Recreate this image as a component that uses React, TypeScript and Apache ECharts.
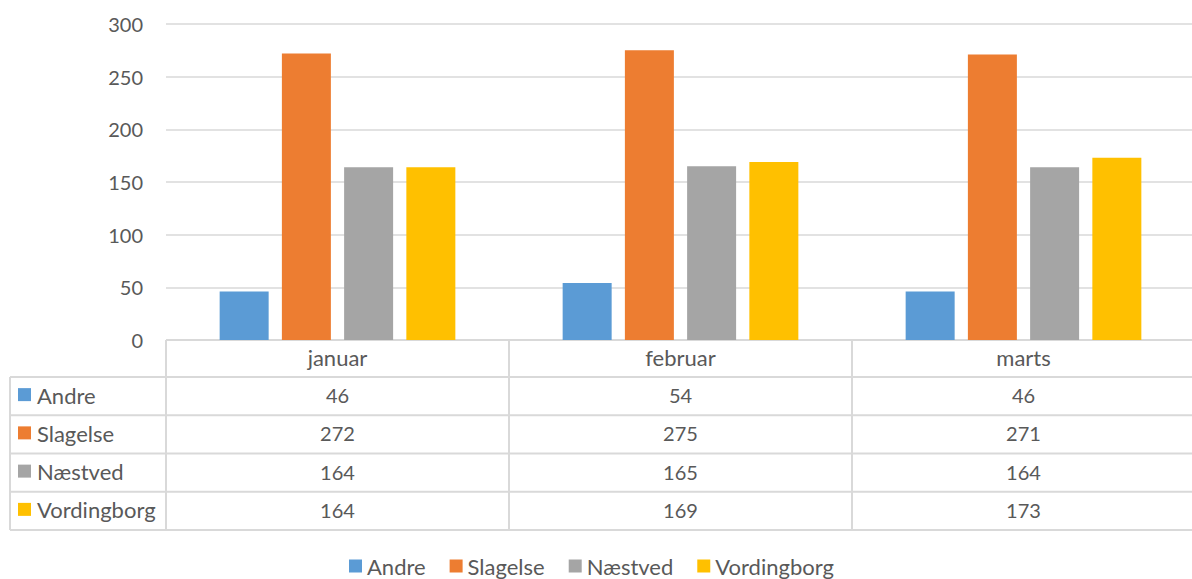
import React, { useEffect, useRef } from "react";
import * as echarts from "echarts";

const months = ["januar", "februar", "marts"];
const seriesNames = ["Andre", "Slagelse", "Næstved", "Vordingborg"];
const andre = [46, 54, 46];
const slagelse = [272, 275, 271];
const naestved = [164, 165, 164];
const vordingborg = [164, 169, 173];
const colors = ["#5B9BD5", "#ED7D31", "#A5A5A5", "#FFC000"];
const yTicks = { min: 0, max: 300, interval: 50 };

const FONT = "Lato, 'Open Sans', sans-serif";
const TXT = "#595959";
const LINE = "#D9D9D9";
const WORD = 22;
const NUM = 20;

export default function App() {
  const ref = useRef<HTMLDivElement>(null);
  useEffect(() => {
    if (!ref.current) return;
    const chart = echarts.init(ref.current, null, { renderer: "svg" });
    const values = [andre, slagelse, naestved, vordingborg];
    chart.setOption({
      animation: false,
      textStyle: { fontFamily: FONT },
      grid: { left: 166, right: 5, top: 24, bottom: 239, containLabel: false },
      legend: {
        data: seriesNames,
        left: 349,
        top: 553,
        padding: 0,
        icon: "rect",
        itemWidth: 13,
        itemHeight: 13,
        itemGap: 24,
        textStyle: { color: TXT, fontSize: WORD, fontFamily: FONT, lineHeight: 26 },
      },
      xAxis: {
        type: "category",
        data: months,
        axisLine: { show: false },
        axisTick: { show: false },
        axisLabel: { show: false },
      },
      yAxis: {
        type: "value",
        min: yTicks.min,
        max: yTicks.max,
        interval: yTicks.interval,
        axisLine: { show: false },
        axisTick: { show: false },
        axisLabel: { color: TXT, fontSize: NUM, fontFamily: FONT, margin: 23 },
        splitLine: { lineStyle: { color: LINE, width: 1.5 } },
      },
      series: seriesNames.map((name, i) => ({
        name,
        type: "bar",
        data: values[i],
        barWidth: 49,
        barGap: "27%",
        itemStyle: { color: colors[i] },
      })),
    });

    // data table below the plot
    const x0 = chart.convertToPixel({ xAxisIndex: 0 }, months[0]) as number;
    const x1 = chart.convertToPixel({ xAxisIndex: 0 }, months[1]) as number;
    const catW = x1 - x0;
    const top = chart.convertToPixel({ yAxisIndex: 0 }, 0) as number;
    const leftPlot = x0 - catW / 2;
    const rightPlot = leftPlot + catW * months.length;
    const headerH = 37;
    const rowH = 38.25;
    const tableLeft = 10;
    const bottom = top + headerH + rowH * seriesNames.length;
    const g: any[] = [];
    const ls = { stroke: LINE, lineWidth: 2 };
    g.push({ type: "line", shape: { x1: leftPlot, y1: top, x2: rightPlot, y2: top }, style: ls, silent: true });
    for (let r = 0; r <= seriesNames.length; r++) {
      const y = top + headerH + rowH * r;
      g.push({ type: "line", shape: { x1: tableLeft, y1: y, x2: rightPlot, y2: y }, style: ls, silent: true });
    }
    g.push({ type: "line", shape: { x1: tableLeft, y1: top + headerH, x2: tableLeft, y2: bottom }, style: ls, silent: true });
    for (let c = 0; c <= months.length; c++) {
      const x = leftPlot + catW * c;
      g.push({ type: "line", shape: { x1: x, y1: top, x2: x, y2: bottom }, style: ls, silent: true });
    }
    months.forEach((m, c) => {
      const cx = chart.convertToPixel({ xAxisIndex: 0 }, m) as number;
      g.push({
        type: "text",
        x: cx,
        y: top + headerH / 2 - 1,
        style: { text: m, fill: TXT, font: `${WORD}px ${FONT}`, align: "center", verticalAlign: "middle" },
        silent: true,
      });
      seriesNames.forEach((_, r) => {
        g.push({
          type: "text",
          x: cx,
          y: top + headerH + rowH * r + rowH / 2 - 1,
          style: { text: String(values[r][c]), fill: TXT, font: `${NUM}px ${FONT}`, align: "center", verticalAlign: "middle" },
          silent: true,
        });
      });
    });
    seriesNames.forEach((n, r) => {
      const cy = top + headerH + rowH * r + rowH / 2;
      g.push({ type: "rect", shape: { x: 18, y: cy - 8, width: 13, height: 13 }, style: { fill: colors[r] }, silent: true });
      g.push({
        type: "text",
        x: 37,
        y: cy - 1,
        style: { text: n, fill: TXT, font: `${WORD}px ${FONT}`, align: "left", verticalAlign: "middle" },
        silent: true,
      });
    });
    chart.setOption({ graphic: g });
    return () => chart.dispose();
  }, []);
  return (
    <div style={{ position: "absolute", left: 0, top: 0, width: 1192, height: 579, overflow: "hidden", background: "#fff" }}>
      <div ref={ref} style={{ width: 1200, height: 579 }} />
    </div>
  );
}
